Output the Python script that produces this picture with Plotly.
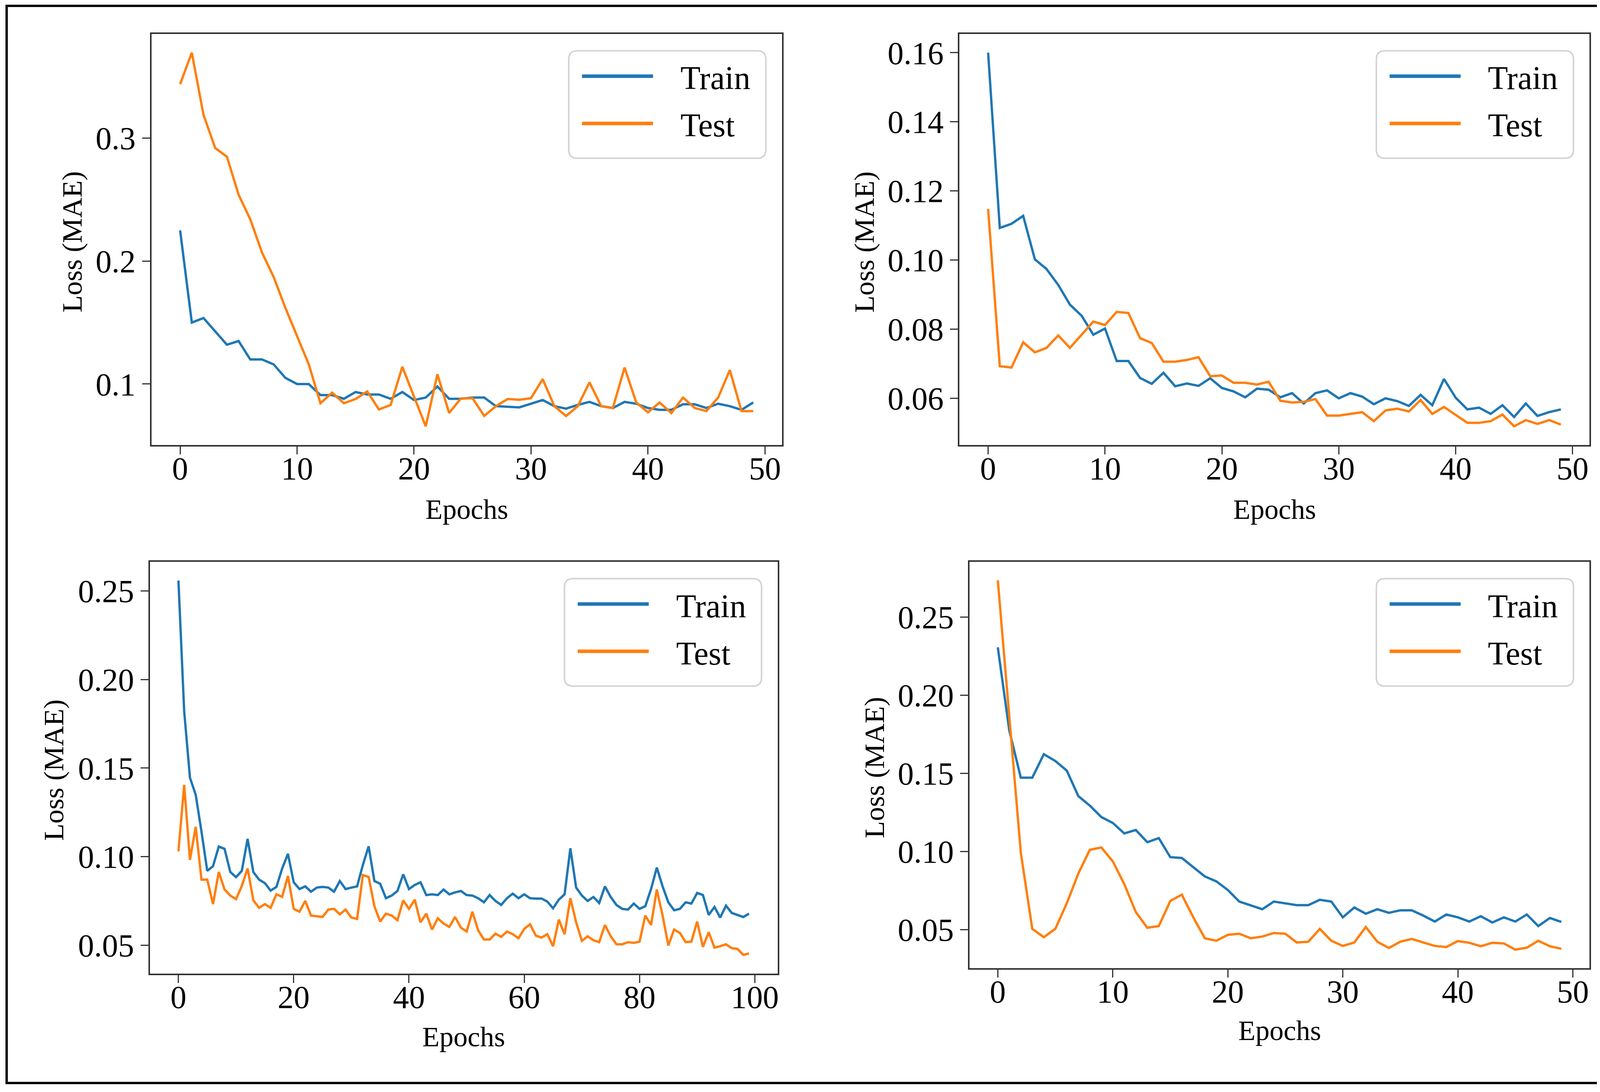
import plotly.graph_objects as go

# page body has an 8px default margin: size the figure so page == 4222x2795
PAGE_W, PAGE_H = 4222, 2795
BODY = 8
W, H = PAGE_W - 2 * BODY, PAGE_H - 2 * BODY

# ---------------- data ----------------
epochs_a = list(range(50))
epochs_c = list(range(100))

train_a = [0.225, 0.150, 0.1537, 0.143, 0.132, 0.135, 0.120, 0.120, 0.116, 0.105,
           0.100, 0.100, 0.091, 0.091, 0.088, 0.0935, 0.0915, 0.0915, 0.088, 0.0935,
           0.087, 0.089, 0.098, 0.088, 0.088, 0.089, 0.089, 0.082, 0.0815, 0.081,
           0.084, 0.087, 0.082, 0.080, 0.083, 0.0855, 0.082, 0.0805, 0.0855, 0.084,
           0.0805, 0.079, 0.079, 0.0835, 0.0835, 0.0805, 0.084, 0.082, 0.079, 0.085]
test_a = [0.344, 0.3696, 0.319, 0.292, 0.285, 0.254, 0.234, 0.207, 0.187, 0.162,
          0.139, 0.116, 0.0844, 0.093, 0.0844, 0.0878, 0.094, 0.0793, 0.083, 0.114,
          0.0898, 0.0656, 0.108, 0.0765, 0.0882, 0.0885, 0.0741, 0.082, 0.0878, 0.0872,
          0.0885, 0.104, 0.082, 0.074, 0.082, 0.1014, 0.082, 0.0805, 0.1134, 0.085,
          0.077, 0.085, 0.0764, 0.089, 0.0805, 0.078, 0.089, 0.1114, 0.078, 0.078]

train_b = [0.160, 0.1093, 0.1105, 0.1128, 0.1002, 0.0974, 0.0928, 0.0871, 0.0839, 0.0784,
           0.0802, 0.0708, 0.0708, 0.0659, 0.0642, 0.0674, 0.0635, 0.0643, 0.0636, 0.0658,
           0.063, 0.062, 0.0603, 0.0628, 0.0625, 0.0603, 0.0615, 0.0585, 0.0615, 0.0623,
           0.060, 0.0615, 0.0605, 0.0583, 0.060, 0.0592, 0.0578, 0.061, 0.058, 0.0656,
           0.0602, 0.0568, 0.0573, 0.0555, 0.058, 0.0546, 0.0585, 0.0549, 0.056, 0.0568]
test_b = [0.1148, 0.0693, 0.0689, 0.0762, 0.0733, 0.0746, 0.0782, 0.0746, 0.0784, 0.0822,
          0.0812, 0.085, 0.0847, 0.0774, 0.076, 0.0706, 0.0706, 0.0711, 0.0719, 0.0664,
          0.0666, 0.0645, 0.0645, 0.064, 0.0648, 0.0593, 0.0588, 0.059, 0.0598, 0.055,
          0.055, 0.0555, 0.056, 0.0534, 0.0565, 0.057, 0.0562, 0.0595, 0.0555, 0.0575,
          0.0553, 0.0529, 0.0529, 0.0534, 0.0553, 0.0519, 0.0537, 0.0526, 0.0537, 0.0524]

train_c = [0.2559, 0.182, 0.1446, 0.1349, 0.1141, 0.092, 0.0946, 0.1057, 0.1044, 0.0913,
           0.0884, 0.092, 0.110, 0.0913, 0.087, 0.085, 0.0808, 0.0829, 0.0933, 0.1016,
           0.0855, 0.0817, 0.0832, 0.0802, 0.0825, 0.0829, 0.0825, 0.0802, 0.0862, 0.0817,
           0.0825, 0.0832, 0.0953, 0.1058, 0.0862, 0.0847, 0.0765, 0.078, 0.0806, 0.090,
           0.0817, 0.084, 0.0855, 0.0783, 0.0787, 0.0783, 0.0814, 0.0787, 0.0798, 0.0806,
           0.0783, 0.078, 0.0765, 0.0742, 0.0783, 0.075, 0.0727, 0.0765, 0.0791, 0.0765,
           0.0787, 0.0765, 0.0763, 0.0763, 0.0746, 0.0708, 0.0757, 0.0787, 0.1047, 0.0825,
           0.078, 0.075, 0.0772, 0.0738, 0.0832, 0.0772, 0.0727, 0.0705, 0.0701, 0.0735,
           0.0705, 0.072, 0.0817, 0.0938, 0.0832, 0.0742, 0.0697, 0.0705, 0.0742, 0.0735,
           0.0795, 0.0783, 0.0671, 0.0716, 0.0656, 0.0723, 0.0682, 0.0671, 0.0659, 0.0678]
test_c = [0.103, 0.1405, 0.0982, 0.1168, 0.087, 0.087, 0.0732, 0.0913, 0.0815, 0.078,
          0.076, 0.0835, 0.0933, 0.0753, 0.0711, 0.0732, 0.0711, 0.0787, 0.0773, 0.089,
          0.0705, 0.0689, 0.075, 0.0667, 0.0663, 0.0659, 0.0701, 0.0705, 0.0674, 0.0701,
          0.0656, 0.0648, 0.0896, 0.0885, 0.072, 0.0633, 0.0678, 0.0667, 0.0641, 0.0753,
          0.0705, 0.0757, 0.0629, 0.0678, 0.0588, 0.0652, 0.0622, 0.0603, 0.0659, 0.0599,
          0.0577, 0.0689, 0.0584, 0.0532, 0.0532, 0.0565, 0.0547, 0.0577, 0.0562, 0.0539,
          0.0592, 0.0618, 0.0554, 0.0543, 0.0562, 0.0494, 0.0644, 0.0562, 0.0765, 0.0629,
          0.0524, 0.055, 0.0528, 0.0517, 0.0614, 0.055, 0.0505, 0.0505, 0.0517, 0.0513,
          0.052, 0.0667, 0.0614, 0.0814, 0.0667, 0.0498, 0.0588, 0.0569, 0.0517, 0.052,
          0.0633, 0.049, 0.0573, 0.0486, 0.0494, 0.0505, 0.0483, 0.0479, 0.0445, 0.0453]

train_d = [0.2306, 0.1774, 0.1472, 0.1472, 0.1622, 0.1579, 0.1517, 0.1354, 0.1293, 0.122,
           0.1182, 0.1115, 0.1137, 0.1059, 0.1085, 0.0963, 0.0958, 0.0898, 0.084, 0.0808,
           0.0753, 0.0679, 0.0656, 0.063, 0.0679, 0.0668, 0.0656, 0.0656, 0.069, 0.0679,
           0.0578, 0.0641, 0.0601, 0.063, 0.0607, 0.0623, 0.0623, 0.0589, 0.0551, 0.0596,
           0.0578, 0.0551, 0.0585, 0.0545, 0.0578, 0.0551, 0.0596, 0.0522, 0.0574, 0.0549]
test_d = [0.2735, 0.1885, 0.0992, 0.0504, 0.0451, 0.0504, 0.0668, 0.0858, 0.101, 0.1025,
          0.0936, 0.079, 0.0612, 0.0511, 0.0522, 0.0683, 0.0723, 0.0578, 0.0444, 0.0428,
          0.0466, 0.0473, 0.0444, 0.0455, 0.0478, 0.0473, 0.0417, 0.0422, 0.0504, 0.0428,
          0.0395, 0.0417, 0.0516, 0.0422, 0.0382, 0.0422, 0.044, 0.0417, 0.0395, 0.0388,
          0.0426, 0.0415, 0.0393, 0.0415, 0.0411, 0.0371, 0.0384, 0.0428, 0.0393, 0.0377]

series_labels = ["Train", "Test"]
x_title = "Epochs"
y_title = "Loss (MAE)"

xticks_50 = [0, 10, 20, 30, 40, 50]
xticks_100 = [0, 20, 40, 60, 80, 100]
yticks_a = [0.1, 0.2, 0.3]
yticks_b = [0.06, 0.08, 0.10, 0.12, 0.14, 0.16]
yticks_cd = [0.05, 0.10, 0.15, 0.20, 0.25]

# ---------------- layout helpers ----------------
BLUE = "#1f77b4"
ORANGE = "#ff7f0e"
FONT = "Liberation Serif"
AXC = "#333333"

# axes boxes in page pixels (left, right, top, bottom)
panels = [
    dict(x=epochs_a, tr=train_a, te=test_a, px=(388, 2003, 87, 1139), xt=xticks_50, yt=yticks_a, fmt=".1f", ytx=203, xty=165),
    dict(x=epochs_a, tr=train_b, te=test_b, px=(2458, 4072, 87, 1139), xt=xticks_50, yt=yticks_b, fmt=".2f", ytx=243, xty=165),
    dict(x=epochs_c, tr=train_c, te=test_c, px=(384, 1992, 1438, 2492), xt=xticks_100, yt=yticks_cd, fmt=".2f", ytx=246, xty=162),
    dict(x=epochs_a, tr=train_d, te=test_d, px=(2484, 4072, 1438, 2478), xt=xticks_50, yt=yticks_cd, fmt=".2f", ytx=243, xty=160),
]


def fx(p):
    return (p - BODY) / W


def fy(p):
    return 1 - (p - BODY) / H


fig = go.Figure()
layout = dict(width=W, height=H, margin=dict(l=0, r=0, t=0, b=0),
              paper_bgcolor="white", plot_bgcolor="white", showlegend=False)
shapes = []
annotations = []

for k, p in enumerate(panels, start=1):
    sfx = "" if k == 1 else str(k)
    l, r, t, b = p["px"]
    xs, ys = p["x"], p["tr"] + p["te"]
    xpad = 0.05 * (max(xs) - min(xs))
    ypad = 0.05 * (max(ys) - min(ys))
    fig.add_trace(go.Scatter(x=p["x"], y=p["tr"], mode="lines", name=series_labels[0],
                             line=dict(color=BLUE, width=6),
                             xaxis="x" + sfx, yaxis="y" + sfx))
    fig.add_trace(go.Scatter(x=p["x"], y=p["te"], mode="lines", name=series_labels[1],
                             line=dict(color=ORANGE, width=6),
                             xaxis="x" + sfx, yaxis="y" + sfx))
    common = dict(showline=True, linecolor=AXC, linewidth=4, mirror=True,
                  ticks="outside", ticklen=20, tickwidth=3, tickcolor=AXC,
                  showgrid=False, zeroline=False,
                  tickfont=dict(family=FONT, size=82, color="black"))
    layout["xaxis" + sfx] = dict(common, domain=[fx(l), fx(r)], anchor="y" + sfx,
                                 range=[min(xs) - xpad, max(xs) + xpad],
                                 tickmode="array", tickvals=p["xt"],
                                 ticktext=[str(v) for v in p["xt"]],
                                 ticklabelstandoff=-34)
    layout["yaxis" + sfx] = dict(common, domain=[fy(b), fy(t)], anchor="x" + sfx,
                                 range=[min(ys) - ypad, max(ys) + ypad],
                                 tickmode="array", tickvals=p["yt"],
                                 ticktext=[format(v, p["fmt"]) for v in p["yt"]])
    # axis titles
    annotations.append(dict(text=x_title, xref="paper", yref="paper",
                            x=fx((l + r) / 2), y=fy(b + p["xty"]), xanchor="center", yanchor="middle",
                            showarrow=False, font=dict(family=FONT, size=72, color="black")))
    annotations.append(dict(text=y_title, xref="paper", yref="paper", textangle=-90,
                            x=fx(l - p["ytx"]), y=fy((t + b) / 2 + 6), xanchor="center", yanchor="middle",
                            showarrow=False, font=dict(family=FONT, size=72, color="black")))
    # legend box (rounded)
    bx1 = r - 41
    bx0 = bx1 - 505
    by0 = t + 43
    by1 = by0 + 275
    rad = 22
    X0, X1, Y0, Y1 = fx(bx0), fx(bx1), fy(by0), fy(by1)
    rx, ry = rad / W, rad / H
    path = (f"M {X0+rx},{Y0} L {X1-rx},{Y0} Q {X1},{Y0} {X1},{Y0-ry} "
            f"L {X1},{Y1+ry} Q {X1},{Y1} {X1-rx},{Y1} L {X0+rx},{Y1} "
            f"Q {X0},{Y1} {X0},{Y1+ry} L {X0},{Y0-ry} Q {X0},{Y0} {X0+rx},{Y0} Z")
    shapes.append(dict(type="path", path=path, xref="paper", yref="paper",
                       line=dict(color="#d4d4d4", width=4), fillcolor="rgba(255,255,255,0.85)"))
    for j, (col, lab) in enumerate(zip([BLUE, ORANGE], series_labels)):
        ly = by0 + 65 + j * 121
        shapes.append(dict(type="line", xref="paper", yref="paper",
                           x0=fx(bx0 + 34), x1=fx(bx0 + 216), y0=fy(ly), y1=fy(ly),
                           line=dict(color=col, width=9)))
        annotations.append(dict(text=lab, xref="paper", yref="paper",
                                x=fx(bx0 + 284), y=fy(ly + 5), xanchor="left", yanchor="middle",
                                showarrow=False, font=dict(family=FONT, size=84, color="black")))

# outer frame
shapes.append(dict(type="rect", xref="paper", yref="paper",
                   x0=fx(17), x1=fx(4203), y0=fy(15), y1=fy(2772),
                   line=dict(color="black", width=6)))

layout["shapes"] = shapes
layout["annotations"] = annotations
fig.update_layout(**layout)
fig.write_html("out.html", config={"displayModeBar": False})
